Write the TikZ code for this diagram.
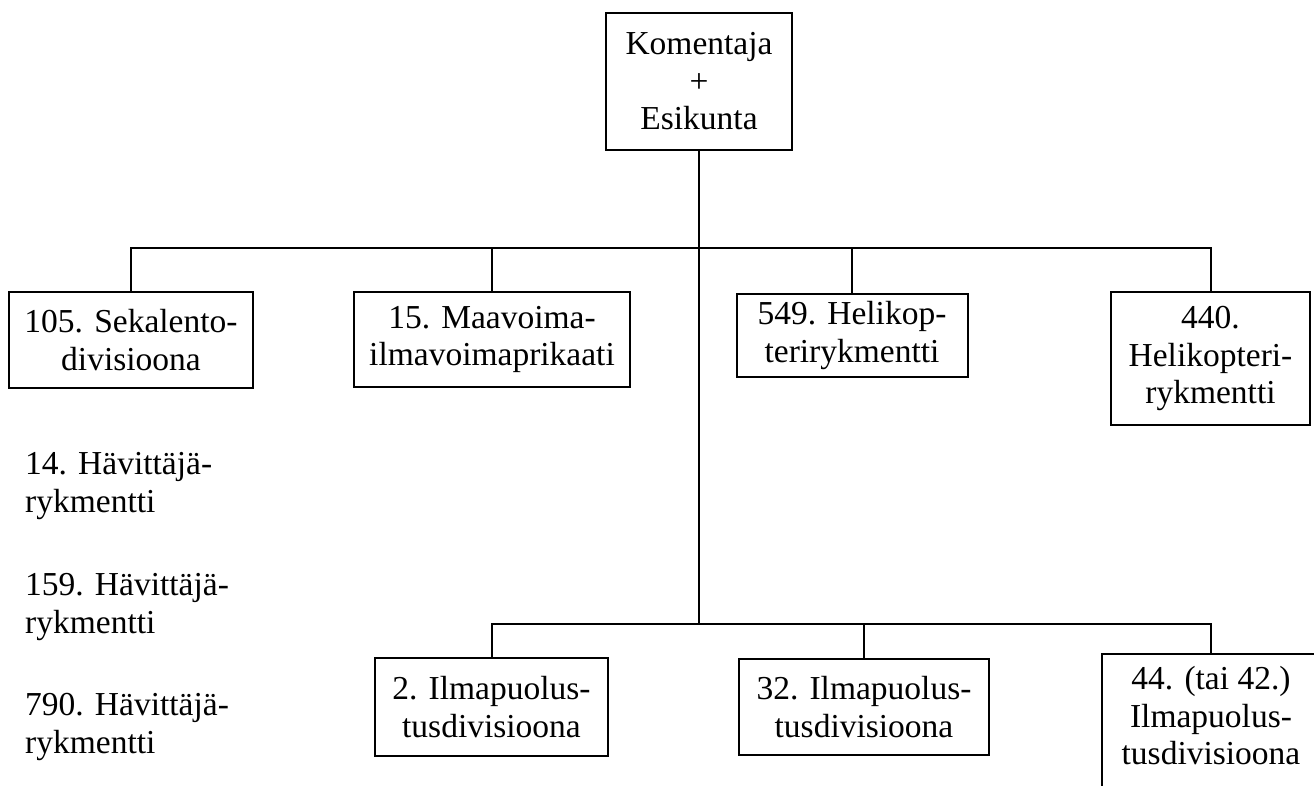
\documentclass[tikz,border=0pt]{standalone}
\usepackage{fontspec}
\setmainfont{Liberation Serif}
\usetikzlibrary{positioning}
\tikzset{
  unit/.style={draw, line width=2pt, rectangle, align=center, inner sep=0pt,
    font=\fontsize{33.5}{37.5}\selectfont},
  regiment/.style={align=left, anchor=west, inner sep=0pt,
    font=\fontsize{33.5}{37.5}\selectfont},
  link/.style={line width=2pt}
}

\begin{document}
\begin{tikzpicture}[x=1pt, y=-1pt]
    \useasboundingbox (0,0) rectangle (1314,786);
    \clip (0,0) rectangle (1314,786);

    % command level
    \node[unit, minimum width=186pt, minimum height=137pt] (hq) at (699,81.5) {Komentaja\\+\\Esikunta};

    % upper row
    \node[unit, minimum width=244pt, minimum height=96pt] (d105) at (131,340) {105. Sekalento-\\divisioona};
    \node[unit, minimum width=276pt, minimum height=95pt] (b15) at (492,339.5) {15. Maavoima-\\ilmavoimaprikaati};
    \node[unit, minimum width=231pt, minimum height=83pt] (r549) at (852,335.5) {549. Helikop-\\terirykmentti};
    \node[unit, minimum width=199pt, minimum height=133pt] (r440) at (1210.5,358.5) {440.\\Helikopteri-\\rykmentti};

    % regiments without frame
    \node[regiment] (r14) at (25,486) {14. Hävittäjä-\\rykmentti};
    \node[regiment] (r159) at (25,607) {159. Hävittäjä-\\rykmentti};
    \node[regiment] (r790) at (25,727) {790. Hävittäjä-\\rykmentti};

    % lower row
    \node[unit, minimum width=233pt, minimum height=98pt] (d2) at (491.5,707) {2. Ilmapuolus-\\tusdivisioona};
    \node[unit, minimum width=250pt, minimum height=96pt] (d32) at (864,707) {32. Ilmapuolus-\\tusdivisioona};
    \node[unit, draw=none, minimum width=216pt, minimum height=122pt] (d44) at (1211,716) {44. (tai 42.)\\Ilmapuolus-\\tusdivisioona};
    \draw[link] (d44.north east) -- (d44.north west) -- (d44.north west |- 0,800);

    % connectors
    \coordinate (upper) at (0,248);
    \coordinate (lower) at (0,624);
    \draw[link] (hq.south) -- (hq.south |- lower);
    \draw[link] (d105.north) -- (d105.north |- upper) -- (r440.north |- upper) -- (r440.north);
    \draw[link] (b15.north) -- (b15.north |- upper);
    \draw[link] (r549.north) -- (r549.north |- upper);
    \draw[link] (d2.north) -- (d2.north |- lower) -- (d44.north |- lower) -- (d44.north);
    \draw[link] (d32.north) -- (d32.north |- lower);
\end{tikzpicture}
\end{document}
